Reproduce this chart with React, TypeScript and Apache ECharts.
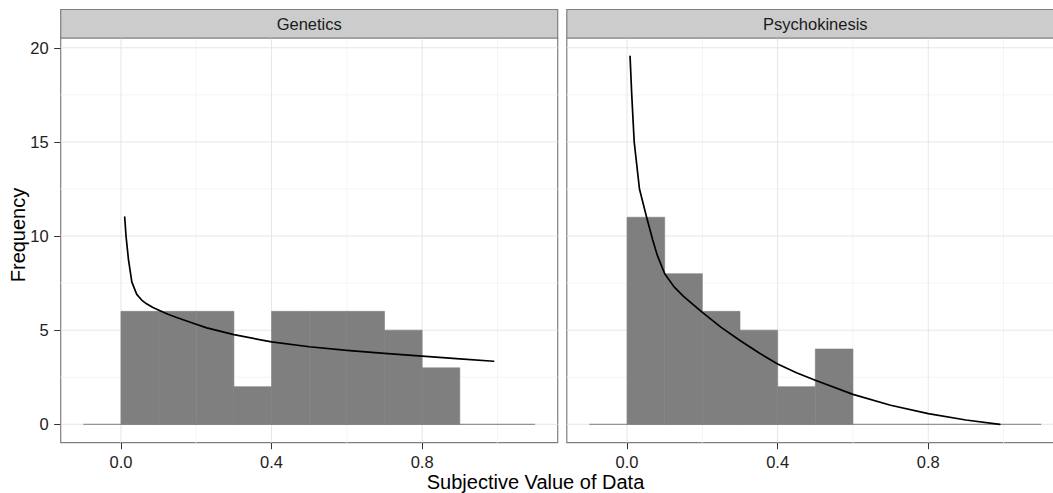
import React, { useEffect, useRef } from 'react';
import * as echarts from 'echarts';

// ---------------- data ----------------
const FACETS = ['Genetics', 'Psychokinesis'];
const BIN_WIDTH = 0.1;

const geneticsBinStarts = [0.0, 0.1, 0.2, 0.3, 0.4, 0.5, 0.6, 0.7, 0.8];
const geneticsCounts = [6, 6, 6, 2, 6, 6, 6, 5, 3];

const psychoBinStarts = [0.0, 0.1, 0.2, 0.3, 0.4, 0.5];
const psychoCounts = [11, 8, 6, 5, 2, 4];

// zero-count bins drawn as a flat line from -0.1 to 1.1
const baselineX = [-0.1, 1.1];
const baselineY = [0, 0];

const geneticsCurveX = [0.01, 0.0135, 0.02, 0.029, 0.042, 0.055, 0.068, 0.085, 0.104, 0.125, 0.148, 0.19, 0.228, 0.3, 0.4, 0.5, 0.6, 0.7, 0.8, 0.9, 0.99];
const geneticsCurveY = [11.0, 10.0, 8.75, 7.55, 6.9, 6.6, 6.4, 6.2, 6.03, 5.85, 5.67, 5.38, 5.12, 4.76, 4.38, 4.12, 3.93, 3.77, 3.62, 3.48, 3.35];

const psychoCurveX = [0.008, 0.0125, 0.019, 0.033, 0.052, 0.068, 0.08, 0.1, 0.125, 0.15, 0.2, 0.25, 0.3, 0.35, 0.4, 0.45, 0.5, 0.6, 0.7, 0.8, 0.9, 0.99];
const psychoCurveY = [19.55, 17.5, 15.0, 12.5, 11.0, 9.8, 9.0, 8.0, 7.3, 6.8, 5.95, 5.15, 4.45, 3.8, 3.2, 2.74, 2.34, 1.59, 1.01, 0.57, 0.23, 0.0];

const xMajorTicks = [0, 0.4, 0.8];
const xMinorTicks = [0.2, 0.6, 1.0];
const yMajorTicks = [0, 5, 10, 15, 20];
const yMinorTicks = [2.5, 7.5, 12.5, 17.5];

const X_MIN = -0.16;
const X_MAX = 1.16;
const Y_MIN = -0.977;
const Y_MAX = 20.52;

const X_TITLE = 'Subjective Value of Data';
const Y_TITLE = 'Frequency';

// ---------------- styles ----------------
const FONT = '"Liberation Sans", Arial, Helvetica, sans-serif';
const PANEL_W = 497;
const PANEL_TOP = 38;
const PANEL_H = 404.7;
const PANEL_LEFTS = [60.7, 566.8];
const STRIP_TOP = 9.5;
const STRIP_H = 28.5;
const BAR_COLOR = '#7F7F7F';

export default function App() {
  const ref = useRef<HTMLDivElement>(null);

  useEffect(() => {
    if (!ref.current) return;
    const chart = echarts.init(ref.current, undefined, { renderer: 'svg' });

    const facetBins = [
      { starts: geneticsBinStarts, counts: geneticsCounts },
      { starts: psychoBinStarts, counts: psychoCounts },
    ];
    const facetCurves = [
      { x: geneticsCurveX, y: geneticsCurveY },
      { x: psychoCurveX, y: psychoCurveY },
    ];

    const gridData: number[][] = [
      ...xMinorTicks.map((v) => [v, 1, 0]),
      ...yMinorTicks.map((v) => [v, 0, 0]),
      ...xMajorTicks.map((v) => [v, 1, 1]),
      ...yMajorTicks.map((v) => [v, 0, 1]),
    ];

    const grids = PANEL_LEFTS.map((left) => ({
      left,
      top: PANEL_TOP,
      width: PANEL_W,
      height: PANEL_H,
      show: true,
      backgroundColor: '#ffffff',
      borderColor: '#7F7F7F',
      borderWidth: 1.2,
      containLabel: false,
      outerBoundsMode: 'none',
    }));

    const xAxes = PANEL_LEFTS.map((_, i) => ({
      type: 'value',
      gridIndex: i,
      min: X_MIN,
      max: X_MAX,
      axisLine: { show: false, onZero: false },
      splitLine: { show: false },
      axisTick: {
        show: true,
        customValues: xMajorTicks,
        length: 6.5,
        lineStyle: { color: '#333333', width: 1 },
      },
      axisLabel: {
        show: true,
        customValues: xMajorTicks,
        formatter: (v: number) => v.toFixed(1),
        margin: 11,
        fontSize: 16.5,
        color: '#222222',
        fontFamily: FONT,
      },
    }));

    const yAxes = PANEL_LEFTS.map((_, i) => ({
      type: 'value',
      gridIndex: i,
      min: Y_MIN,
      max: Y_MAX,
      axisLine: { show: false, onZero: false },
      splitLine: { show: false },
      axisTick: {
        show: i === 0,
        customValues: yMajorTicks,
        length: 6.5,
        lineStyle: { color: '#333333', width: 1 },
      },
      axisLabel: {
        show: i === 0,
        customValues: yMajorTicks,
        formatter: (v: number) => String(v),
        margin: 12,
        fontSize: 16.5,
        color: '#222222',
        fontFamily: FONT,
      },
    }));

    const series: any[] = [];
    PANEL_LEFTS.forEach((_, i) => {
      series.push({
        type: 'custom',
        xAxisIndex: i,
        yAxisIndex: i,
        silent: true,
        z: 1,
        data: gridData,
        encode: { x: 0, y: 1 },
        renderItem: (params: any, api: any) => {
          const v = api.value(0);
          const isX = api.value(1);
          const major = api.value(2);
          const cs = params.coordSys;
          const stroke = major ? '#E6E6E6' : '#F4F4F4';
          if (isX) {
            const x = api.coord([v, 0])[0];
            return {
              type: 'line',
              shape: { x1: x, y1: cs.y, x2: x, y2: cs.y + cs.height },
              style: { stroke, lineWidth: 1 },
            };
          }
          const y = api.coord([0, v])[1];
          return {
            type: 'line',
            shape: { x1: cs.x, y1: y, x2: cs.x + cs.width, y2: y },
            style: { stroke, lineWidth: 1 },
          };
        },
      });
      series.push({
        type: 'line',
        xAxisIndex: i,
        yAxisIndex: i,
        silent: true,
        z: 2,
        symbol: 'none',
        data: baselineX.map((x, k) => [x, baselineY[k]]),
        lineStyle: { color: BAR_COLOR, width: 1 },
      });
      series.push({
        type: 'custom',
        xAxisIndex: i,
        yAxisIndex: i,
        silent: true,
        z: 3,
        data: facetBins[i].starts.map((s, k) => [s, facetBins[i].counts[k]]),
        encode: { x: 0, y: 1 },
        renderItem: (_params: any, api: any) => {
          const s = api.value(0);
          const c = api.value(1);
          const p0 = api.coord([s, 0]);
          const p1 = api.coord([s + BIN_WIDTH, c]);
          return {
            type: 'rect',
            shape: { x: p0[0], y: p1[1], width: p1[0] - p0[0], height: p0[1] - p1[1] },
            style: { fill: BAR_COLOR, stroke: BAR_COLOR, lineWidth: 0.6 },
          };
        },
      });
      series.push({
        type: 'line',
        xAxisIndex: i,
        yAxisIndex: i,
        silent: true,
        z: 4,
        symbol: 'none',
        smooth: false,
        data: facetCurves[i].x.map((x, k) => [x, facetCurves[i].y[k]]),
        lineStyle: { color: '#000000', width: 1.7, join: 'round', cap: 'round' },
      });
    });

    const graphic: any[] = [];
    PANEL_LEFTS.forEach((left, i) => {
      graphic.push({
        type: 'rect',
        silent: true,
        z: 10,
        shape: { x: left, y: STRIP_TOP, width: PANEL_W, height: STRIP_H },
        style: { fill: '#CCCCCC', stroke: '#7F7F7F', lineWidth: 1.2 },
      });
      graphic.push({
        type: 'text',
        silent: true,
        z: 11,
        x: left + PANEL_W / 2,
        y: STRIP_TOP + STRIP_H / 2,
        style: {
          text: FACETS[i],
          fontSize: 16.5,
          fontFamily: FONT,
          fill: '#1a1a1a',
          align: 'center',
          verticalAlign: 'middle',
          textAlign: 'center',
          textVerticalAlign: 'middle',
        },
      });
    });
    graphic.push({
      type: 'text',
      silent: true,
      x: 535.5,
      y: 481.5,
      style: {
        text: X_TITLE,
        fontSize: 20,
        fontFamily: FONT,
        fill: '#000000',
        align: 'center',
        verticalAlign: 'middle',
        textAlign: 'center',
        textVerticalAlign: 'middle',
      },
    });
    graphic.push({
      type: 'text',
      silent: true,
      x: 18,
      y: 235,
      rotation: Math.PI / 2,
      style: {
        text: Y_TITLE,
        fontSize: 20,
        fontFamily: FONT,
        fill: '#000000',
        align: 'center',
        verticalAlign: 'middle',
        textAlign: 'center',
        textVerticalAlign: 'middle',
      },
    });

    chart.setOption({
      animation: false,
      backgroundColor: '#ffffff',
      grid: grids,
      xAxis: xAxes,
      yAxis: yAxes,
      series,
      graphic,
    });

    return () => {
      chart.dispose();
    };
  }, []);

  return (
    <div
      ref={ref}
      style={{ position: 'absolute', left: 0, top: 0, width: 1053, height: 493 }}
    />
  );
}
